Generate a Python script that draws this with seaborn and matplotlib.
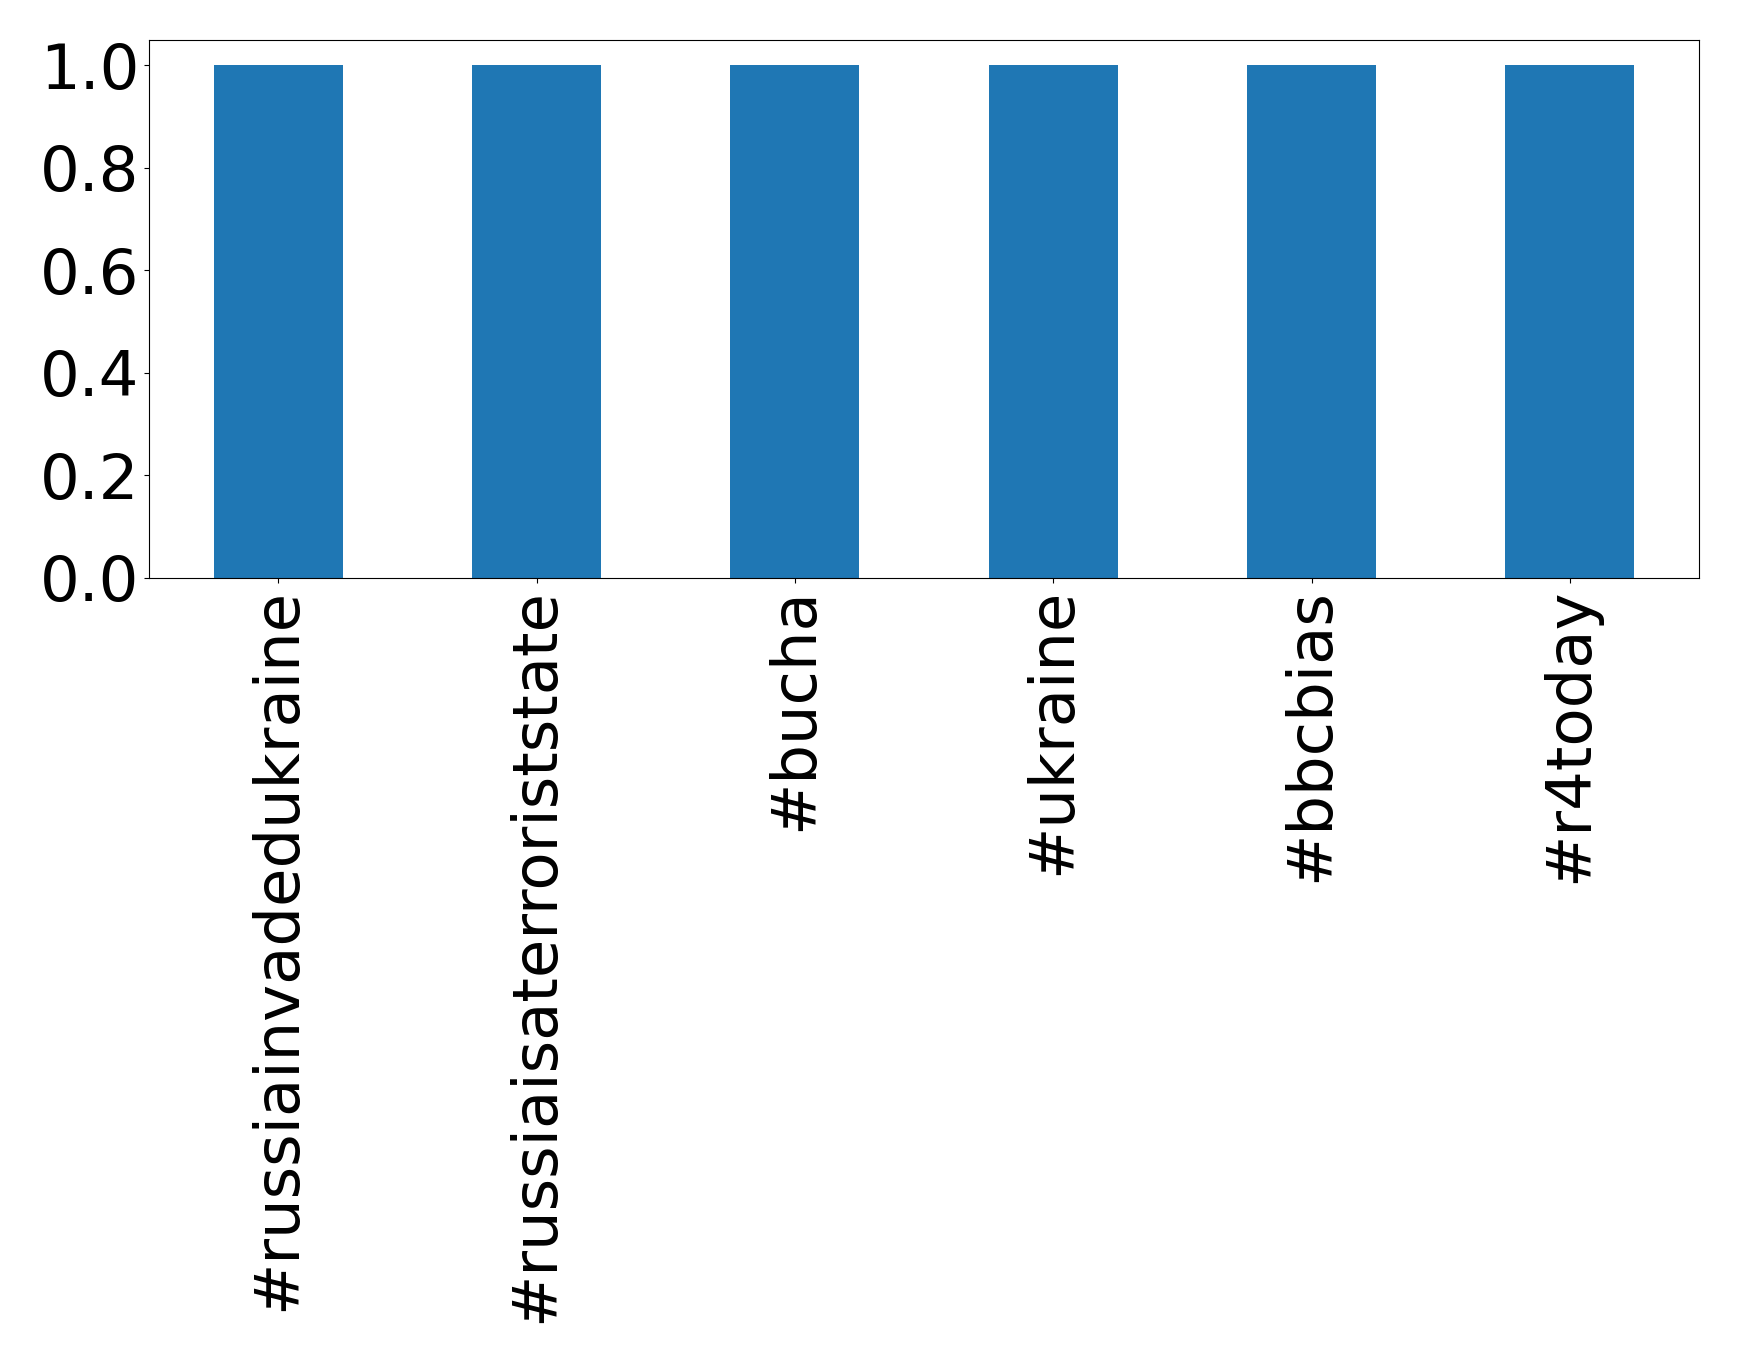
import matplotlib
matplotlib.use("Agg")
import matplotlib.pyplot as plt
import seaborn as sns
import pandas as pd

# hashtags and their values
hashtags = ['#russiainvadedukraine', '#russiaisaterroriststate', '#bucha',
            '#ukraine', '#bbcbias', '#r4today']
counts = [1.0, 1.0, 1.0, 1.0, 1.0, 1.0]
yticks = [0.0, 0.2, 0.4, 0.6, 0.8, 1.0]

df = pd.DataFrame({'hashtag': hashtags, 'count': counts})

fig, ax = plt.subplots(figsize=(17.39, 13.63), dpi=100)
sns.barplot(data=df, x='hashtag', y='count', color='#1f77b4', saturation=1,
            width=0.5, linewidth=0, ax=ax)

ax.set_xlim(-0.5, 5.5)
ax.set_ylim(0, 1.05)
ax.set_yticks(yticks)
ax.set_xlabel('')
ax.set_ylabel('')
ax.tick_params(axis='both', labelsize=45)
ax.tick_params(axis='x', labelrotation=90)

plt.subplots_adjust(left=0.0857, right=0.977, top=0.971, bottom=0.576)
plt.savefig('out.png')
